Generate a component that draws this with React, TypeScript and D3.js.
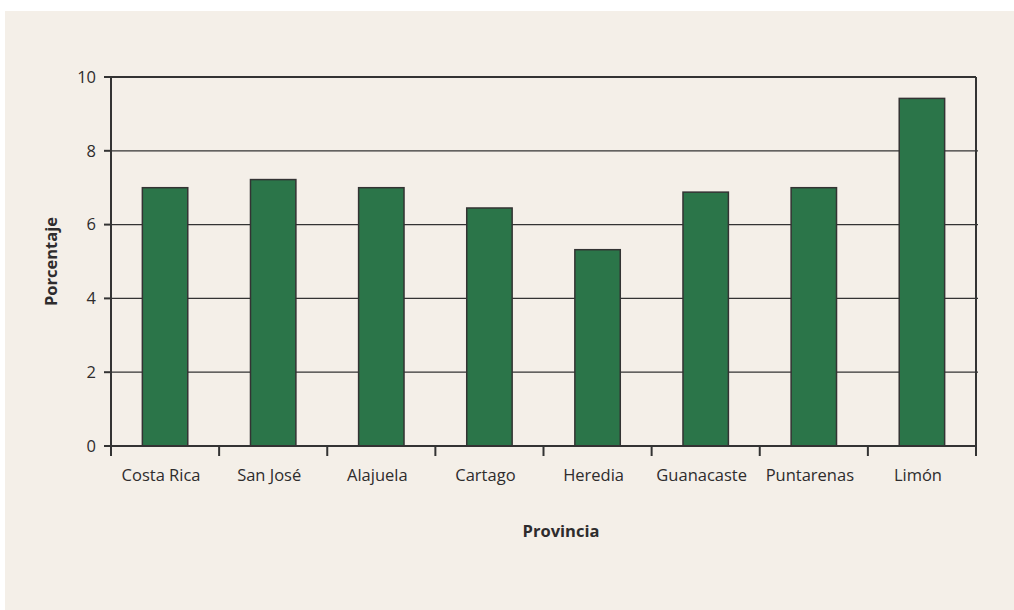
import React from "react";
import * as d3 from "d3";

const provincias = [
  "Costa Rica",
  "San José",
  "Alajuela",
  "Cartago",
  "Heredia",
  "Guanacaste",
  "Puntarenas",
  "Limón",
];
const porcentajes = [7.0, 7.22, 7.0, 6.45, 5.32, 6.88, 7.0, 9.42];
const yTicks = [0, 2, 4, 6, 8, 10];

export default function App() {
  const width = 1014;
  const height = 610;
  const margin = { top: 77, right: 38, bottom: 164, left: 111 };
  const font = "'Open Sans', 'Noto Sans', sans-serif";
  const ink = "#2e2c2d";
  const fs = 16.5;

  const x = d3
    .scaleBand()
    .domain(provincias)
    .range([margin.left, width - margin.right])
    .paddingInner(0)
    .paddingOuter(0);

  const y = d3
    .scaleLinear()
    .domain([0, 10])
    .range([height - margin.bottom, margin.top]);

  const barW = x.bandwidth() * 0.42;
  const bounds = provincias.map((p) => x(p) as number).concat([x.range()[1]]);

  return (
    <svg
      width={width}
      height={height}
      style={{ position: "absolute", left: 0, top: 0 }}
      fontFamily={font}
    >
      <rect x={0} y={0} width={width} height={height} fill="#ffffff" />
      <rect x={5} y={11} width={width - 5} height={height - 11} fill="#f4efe8" />

      {/* grid lines */}
      {yTicks
        .filter((t) => t > 0 && t < 10)
        .map((t) => (
          <line
            key={"g" + t}
            x1={margin.left}
            x2={x.range()[1] + 2}
            y1={y(t)}
            y2={y(t)}
            stroke="#333333"
            strokeWidth={1.3}
          />
        ))}

      {/* bars */}
      {provincias.map((p, i) => (
        <rect
          key={p}
          x={(x(p) as number) + x.bandwidth() / 2 - barW / 2}
          y={y(porcentajes[i])}
          width={barW}
          height={y(0) - y(porcentajes[i])}
          fill="#2b7549"
          stroke="#333333"
          strokeWidth={1.5}
        />
      ))}

      {/* frame */}
      <line x1={margin.left - 7} x2={x.range()[1]} y1={y(10)} y2={y(10)} stroke="#333333" strokeWidth={2} />
      <line x1={x.range()[1]} x2={x.range()[1]} y1={y(10)} y2={y(0)} stroke="#333333" strokeWidth={2} />
      <line x1={margin.left} x2={margin.left} y1={y(10)} y2={y(0) + 10} stroke="#333333" strokeWidth={2} />
      <line x1={margin.left - 7} x2={x.range()[1]} y1={y(0)} y2={y(0)} stroke="#333333" strokeWidth={2} />

      {/* y ticks */}
      {yTicks.map((t) => (
        <g key={"y" + t}>
          <line x1={margin.left - 7} x2={margin.left} y1={y(t)} y2={y(t)} stroke="#333333" strokeWidth={2} />
          <text
            x={margin.left - 15}
            y={y(t)}
            dy="0.35em"
            textAnchor="end"
            fontSize={fs}
            fill={ink}
          >
            {t}
          </text>
        </g>
      ))}

      {/* x ticks */}
      {bounds.map((b, i) => (
        <line key={"xt" + i} x1={b} x2={b} y1={y(0)} y2={y(0) + 10} stroke="#333333" strokeWidth={2} />
      ))}
      {provincias.map((p) => (
        <text
          key={"l" + p}
          x={(x(p) as number) + x.bandwidth() / 2 - 4}
          y={y(0) + 35}
          textAnchor="middle"
          fontSize={fs}
          fill={ink}
        >
          {p}
        </text>
      ))}

      {/* axis titles */}
      <text
        transform={`translate(57,${(y(0) + y(10)) / 2}) rotate(-90)`}
        textAnchor="middle"
        fontSize={fs}
        fontWeight="bold"
        fill={ink}
      >
        Porcentaje
      </text>
      <text
        x={561}
        y={537}
        textAnchor="middle"
        fontSize={fs}
        fontWeight="bold"
        fill={ink}
      >
        Provincia
      </text>
    </svg>
  );
}
